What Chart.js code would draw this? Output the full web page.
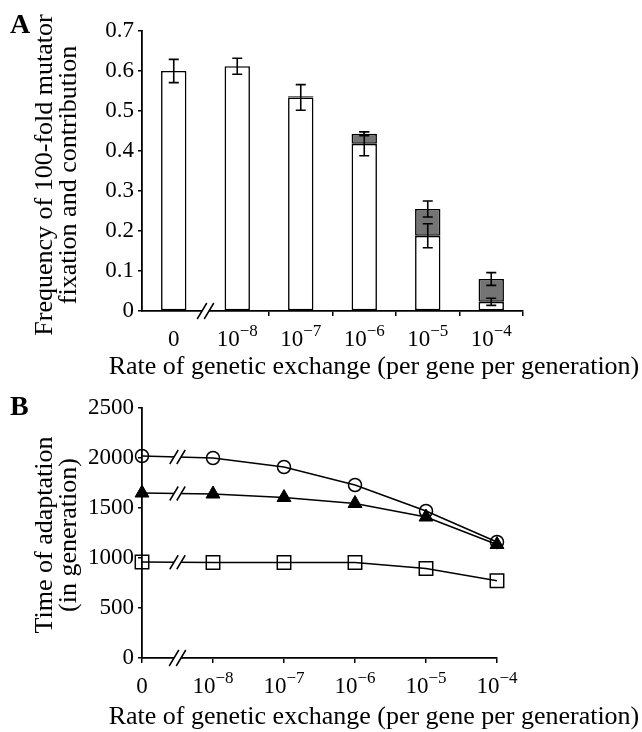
<!DOCTYPE html>
<html>
<head>
<meta charset="utf-8">
<script src="https://cdn.jsdelivr.net/npm/chart.js@4.4.0/dist/chart.umd.min.js"></script>
<style>
  body { margin: 0; background: #fff; }
  #chartA { position: absolute; left: 0; top: 0; }
  #chartB { position: absolute; left: 0; top: 380px; }
</style>
</head>
<body>
<canvas id="chartA" width="642" height="380"></canvas>
<canvas id="chartB" width="642" height="352"></canvas>
<script>
// data
const rateLabels = ['0', '10-8', '10-7', '10-6', '10-5', '10-4'];
const tickBase = ['0', '10', '10', '10', '10', '10'];
const tickExp = ['', '\u22128', '\u22127', '\u22126', '\u22125', '\u22124'];

// panel A: fixation (white) and contribution (grey, stacked on top)
const fixationWhite = [0.600, 0.612, 0.534, 0.418, 0.188, 0.023];
const contributionGray = [null, null, 0.003, 0.025, 0.067, 0.057];
const whiteErr = [0.029, 0.020, 0.032, 0.030, 0.030, 0.009];
const totalErr = [0, 0, 0, 0.005, 0.020, 0.016];
const freqTicks = [0, 0.1, 0.2, 0.3, 0.4, 0.5, 0.6, 0.7];

// panel B: time of adaptation
const timeCircle = [2020, 2000, 1910, 1730, 1470, 1160];
const timeTriangle = [1650, 1640, 1605, 1545, 1410, 1135];
const timeSquare = [960, 955, 955, 955, 895, 772];

const serif = "'Liberation Serif', 'Times New Roman', serif";
const xTitle = 'Rate of genetic exchange (per gene per generation)';

function breakMark(ctx, cx, cy, h) {
  const w = h * 0.6, gap = 3.5;
  ctx.save();
  ctx.fillStyle = '#fff';
  ctx.beginPath();
  ctx.moveTo(cx - gap - w, cy + h);
  ctx.lineTo(cx - gap + w, cy - h);
  ctx.lineTo(cx + gap + w, cy - h);
  ctx.lineTo(cx + gap - w, cy + h);
  ctx.closePath();
  ctx.fill();
  ctx.strokeStyle = '#000';
  ctx.lineWidth = 1.5;
  ctx.beginPath();
  ctx.moveTo(cx - gap - w, cy + h);
  ctx.lineTo(cx - gap + w, cy - h);
  ctx.moveTo(cx + gap - w, cy + h);
  ctx.lineTo(cx + gap + w, cy - h);
  ctx.stroke();
  ctx.restore();
}

// x tick labels with superscript exponents
function drawRateTicks(chart, baseline) {
  const ctx = chart.ctx, xs = chart.scales.x;
  ctx.save();
  ctx.fillStyle = '#000';
  ctx.textAlign = 'left';
  ctx.textBaseline = 'alphabetic';
  tickBase.forEach((b, i) => {
    const x = xs.getPixelForTick(i);
    ctx.font = '23px ' + serif;
    const bw = ctx.measureText(b).width;
    ctx.font = '17px ' + serif;
    const ew = ctx.measureText(tickExp[i]).width;
    const left = x - (bw + ew) / 2;
    ctx.font = '23px ' + serif;
    ctx.fillText(b, left, baseline);
    ctx.font = '17px ' + serif;
    ctx.fillText(tickExp[i], left + bw, baseline - 10);
  });
  ctx.restore();
}

function drawTitles(chart, letter, letterY, yLines, yMid, xTitleY) {
  const ctx = chart.ctx;
  ctx.save();
  ctx.fillStyle = '#000';
  ctx.font = 'bold 28px ' + serif;
  ctx.textAlign = 'left';
  ctx.textBaseline = 'alphabetic';
  ctx.fillText(letter, 10, letterY);

  ctx.font = '26px ' + serif;
  ctx.textAlign = 'center';
  ctx.textBaseline = 'middle';
  ctx.fillText(xTitle, 374, xTitleY);

  yLines.forEach((t, i) => {
    ctx.save();
    ctx.translate(45 + i * 24, yMid);
    ctx.rotate(-Math.PI / 2);
    ctx.fillText(t, 0, 0);
    ctx.restore();
  });
  ctx.restore();
}

const panelA = {
  id: 'panelA',
  afterDraw(chart) {
    const ctx = chart.ctx, ys = chart.scales.y;
    const meta = chart.getDatasetMeta(0);
    ctx.save();
    ctx.strokeStyle = '#000';
    ctx.lineWidth = 1.6;
    const err = (x, v, e) => {
      const y1 = ys.getPixelForValue(v + e), y2 = ys.getPixelForValue(v - e);
      ctx.beginPath();
      ctx.moveTo(x, y1); ctx.lineTo(x, y2);
      ctx.moveTo(x - 5, y1); ctx.lineTo(x + 5, y1);
      ctx.moveTo(x - 5, y2); ctx.lineTo(x + 5, y2);
      ctx.stroke();
    };
    meta.data.forEach((bar, i) => {
      err(bar.x, fixationWhite[i], whiteErr[i]);
      if (contributionGray[i] && totalErr[i]) {
        err(bar.x, fixationWhite[i] + contributionGray[i], totalErr[i]);
      }
    });
    ctx.restore();
    const xs = chart.scales.x;
    const bx = (xs.getPixelForTick(0) + xs.getPixelForTick(1)) / 2;
    breakMark(ctx, bx, chart.chartArea.bottom, 8);
    drawRateTicks(chart, chart.chartArea.bottom + 35);
    drawTitles(chart, 'A', 33, ['Frequency of 100-fold mutator', 'fixation and contribution'], 175, 367);
  }
};

const panelB = {
  id: 'panelB',
  afterDraw(chart) {
    const ctx = chart.ctx, xs = chart.scales.x, ys = chart.scales.y;
    const bx = (xs.getPixelForValue(0) + xs.getPixelForValue(1)) / 2;
    [timeCircle, timeTriangle, timeSquare].forEach(s => {
      const by = (ys.getPixelForValue(s[0]) + ys.getPixelForValue(s[1])) / 2;
      breakMark(ctx, bx, by, 7);
    });
    breakMark(ctx, bx, chart.chartArea.bottom, 8);
    drawRateTicks(chart, chart.chartArea.bottom + 35);
    drawTitles(chart, 'B', 35, ['Time of adaptation', '(in generation)'], 155, 337);
  }
};

const yTickFont = { family: serif, size: 23 };

new Chart(document.getElementById('chartA'), {
  type: 'bar',
  data: {
    labels: rateLabels,
    datasets: [{
      data: fixationWhite,
      backgroundColor: '#fff',
      borderColor: '#000',
      borderWidth: 1.6,
      borderSkipped: false,
      barPercentage: 0.4,
      categoryPercentage: 1
    }, {
      data: contributionGray,
      backgroundColor: '#747474',
      borderColor: '#000',
      borderWidth: 1.6,
      borderSkipped: false,
      barPercentage: 0.4,
      categoryPercentage: 1
    }]
  },
  options: {
    responsive: false,
    animation: false,
    layout: { padding: { left: 0, top: 31, right: 119, bottom: 0 } },
    scales: {
      x: {
        stacked: true,
        offset: true,
        grid: {
          offset: true,
          drawOnChartArea: false,
          tickLength: 5,
          lineWidth: 1.5,
          color: c => (c.index < 2 ? 'rgba(0,0,0,0)' : '#000')
        },
        border: { color: '#000', width: 1.8 },
        ticks: { display: false },
        afterFit: s => { s.height = 69; }
      },
      y: {
        stacked: true,
        min: 0,
        max: 0.7,
        afterBuildTicks: s => { s.ticks = freqTicks.map(v => ({ value: v })); },
        ticks: {
          font: yTickFont,
          color: '#000',
          padding: 4,
          callback: v => (v === 0 ? '0' : v.toFixed(1))
        },
        grid: { drawOnChartArea: false, tickLength: 4, lineWidth: 1.5, color: '#000' },
        border: { color: '#000', width: 1.8 },
        afterFit: s => { s.width = 142; }
      }
    },
    plugins: { legend: { display: false }, tooltip: { enabled: false } }
  },
  plugins: [panelA]
});

new Chart(document.getElementById('chartB'), {
  type: 'line',
  data: {
    labels: rateLabels,
    datasets: [{
      data: timeCircle,
      borderColor: '#000',
      borderWidth: 1.6,
      pointStyle: 'circle',
      pointRadius: 6.5,
      pointBackgroundColor: 'rgba(0,0,0,0)',
      pointBorderColor: '#000',
      pointBorderWidth: 1.5,
      clip: false
    }, {
      data: timeTriangle,
      borderColor: '#000',
      borderWidth: 1.6,
      pointStyle: 'triangle',
      pointRadius: 8,
      pointBackgroundColor: '#000',
      pointBorderColor: '#000',
      pointBorderWidth: 1,
      clip: false
    }, {
      data: timeSquare,
      borderColor: '#000',
      borderWidth: 1.6,
      pointStyle: 'rect',
      pointRadius: 9.5,
      pointBackgroundColor: 'rgba(0,0,0,0)',
      pointBorderColor: '#000',
      pointBorderWidth: 1.5,
      clip: false
    }]
  },
  options: {
    responsive: false,
    animation: false,
    layout: { padding: { left: 0, top: 28, right: 145, bottom: 0 } },
    scales: {
      x: {
        offset: false,
        grid: { drawOnChartArea: false, tickLength: 5, lineWidth: 1.5, color: '#000' },
        border: { color: '#000', width: 1.8 },
        ticks: { display: false },
        afterFit: s => { s.height = 74; }
      },
      y: {
        min: 0,
        max: 2500,
        ticks: { stepSize: 500, font: yTickFont, color: '#000', padding: 4, callback: v => String(v) },
        grid: { drawOnChartArea: false, tickLength: 4, lineWidth: 1.5, color: '#000' },
        border: { color: '#000', width: 1.8 },
        afterFit: s => { s.width = 142; }
      }
    },
    plugins: { legend: { display: false }, tooltip: { enabled: false } }
  },
  plugins: [panelB]
});
</script>
</body>
</html>
